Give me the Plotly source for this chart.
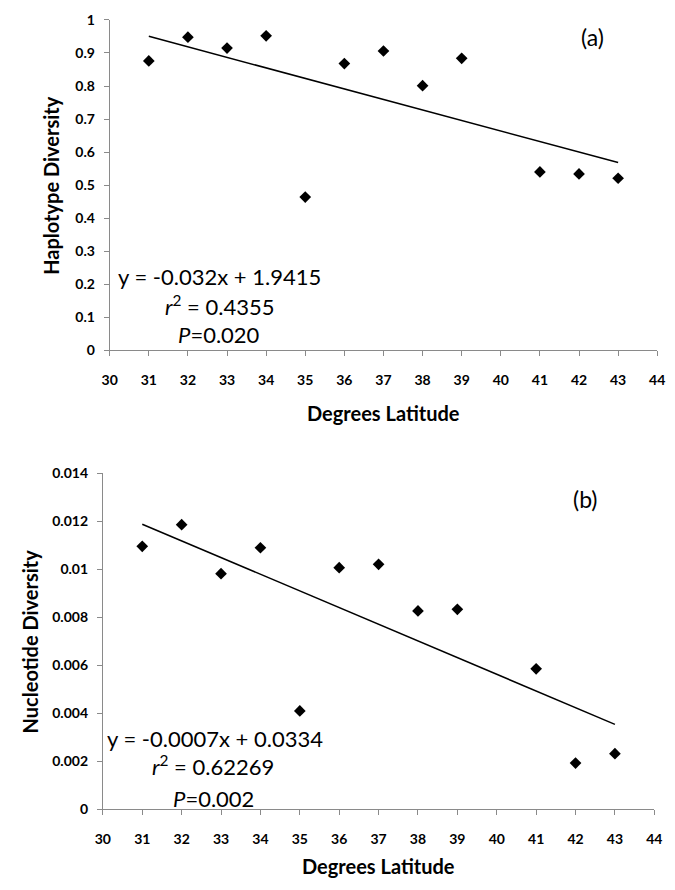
import numpy as np
import plotly.graph_objects as go

# ---- data ----
latitude = [31, 32, 33, 34, 35, 36, 37, 38, 39, 41, 42, 43]
haplotype_div = [0.876, 0.948, 0.915, 0.952, 0.464, 0.868, 0.906, 0.801, 0.884, 0.540, 0.534, 0.521]
nucleotide_div = [0.01095, 0.01185, 0.00981, 0.01089, 0.00410, 0.01006, 0.01020,
                  0.00826, 0.00833, 0.00585, 0.00193, 0.00232]

x_ticks = list(range(30, 45))
x_ticklabels = [str(v) for v in x_ticks]
hap_ticks = [0, 0.1, 0.2, 0.3, 0.4, 0.5, 0.6, 0.7, 0.8, 0.9, 1]
hap_ticklabels = ["0", "0.1", "0.2", "0.3", "0.4", "0.5", "0.6", "0.7", "0.8", "0.9", "1"]
nuc_ticks = [0, 0.002, 0.004, 0.006, 0.008, 0.010, 0.012, 0.014]
nuc_ticklabels = ["0", "0.002", "0.004", "0.006", "0.008", "0.01", "0.012", "0.014"]

eq_a = ["y = -0.032x + 1.9415", "<i>r</i><sup>2</sup> = 0.4355", "<i>P</i>=0.020"]
eq_b = ["y = -0.0007x + 0.0334", "<i>r</i><sup>2</sup> = 0.62269", "<i>P</i>=0.002"]

FONT = "Lato"
AXC = "#8a8a8a"
OFF = 8                      # default page (body) margin of the html page
W, H = 675 - OFF, 890 - OFF  # figure fits inside the window


def px_x(p):
    return (p - OFF) / W


def px_y(p):
    return 1 - (p - OFF) / H


def fit_line(x, y):
    slope, intercept = np.polyfit(x, y, 1)
    xs = np.array([min(x), max(x)], dtype=float)
    return xs, slope * xs + intercept


fig = go.Figure()

# top panel
fig.add_trace(go.Scatter(x=latitude, y=haplotype_div, mode="markers",
                         marker=dict(symbol="diamond", size=9, color="black"),
                         xaxis="x", yaxis="y", showlegend=False))
lx, ly = fit_line(latitude, haplotype_div)
fig.add_trace(go.Scatter(x=lx, y=ly, mode="lines", line=dict(color="black", width=1.5),
                         xaxis="x", yaxis="y", showlegend=False))

# bottom panel
fig.add_trace(go.Scatter(x=latitude, y=nucleotide_div, mode="markers",
                         marker=dict(symbol="diamond", size=9, color="black"),
                         xaxis="x2", yaxis="y2", showlegend=False))
lx2, ly2 = fit_line(latitude, nucleotide_div)
fig.add_trace(go.Scatter(x=lx2, y=ly2, mode="lines", line=dict(color="black", width=1.5),
                         xaxis="x2", yaxis="y2", showlegend=False))

tickfont = dict(family=FONT, size=14, color="black", weight="bold")
common_x = dict(range=[30, 44], tickvals=x_ticks, ticktext=x_ticklabels, showline=True,
                linecolor=AXC, linewidth=1, ticks="outside", ticklen=5, tickcolor=AXC,
                showgrid=False, zeroline=False, tickfont=tickfont, ticklabelstandoff=12)
common_y = dict(showline=True, linecolor=AXC, linewidth=1, ticks="outside", ticklen=5,
                tickcolor=AXC, showgrid=False, zeroline=False, tickfont=tickfont,
                ticklabelstandoff=6)

fig.update_layout(
    width=W, height=H,
    margin=dict(l=0, r=0, t=0, b=0),
    plot_bgcolor="white", paper_bgcolor="white",
    font=dict(family=FONT, color="black"),
    xaxis=dict(domain=[px_x(104), px_x(665)], anchor="y", **common_x),
    yaxis=dict(domain=[px_y(348), px_y(11)], anchor="x", range=[0, 1],
               tickvals=hap_ticks, ticktext=hap_ticklabels, **common_y),
    xaxis2=dict(domain=[px_x(97), px_x(662)], anchor="y2", **common_x),
    yaxis2=dict(domain=[px_y(816), px_y(473)], anchor="x2", range=[0, 0.014],
                tickvals=nuc_ticks, ticktext=nuc_ticklabels, **common_y),
)

ann = []
title_font = dict(family=FONT, size=20, color="black", weight="bold")
text_font = dict(family=FONT, size=22, color="black")
label_font = dict(family=FONT, size=23, color="black")

# axis titles
ann.append(dict(text="Degrees Latitude", xref="paper", yref="paper",
                x=px_x((104 + 665) / 2), y=px_y(412), showarrow=False, font=title_font,
                xanchor="center", yanchor="middle"))
ann.append(dict(text="Degrees Latitude", xref="paper", yref="paper",
                x=px_x((97 + 662) / 2), y=px_y(874), showarrow=False, font=title_font,
                xanchor="center", yanchor="middle"))
ann.append(dict(text="Haplotype Diversity", xref="paper", yref="paper",
                x=px_x(44), y=px_y(180), textangle=-90, showarrow=False, font=title_font,
                xanchor="center", yanchor="middle"))
ann.append(dict(text="Nucleotide Diversity", xref="paper", yref="paper",
                x=px_x(22), y=px_y(645), textangle=-90, showarrow=False, font=title_font,
                xanchor="center", yanchor="middle"))

# panel labels
ann.append(dict(text="(a)", xref="x", yref="y", x=42.35, y=0.948, showarrow=False,
                font=label_font, xanchor="center", yanchor="middle"))
ann.append(dict(text="(b)", xref="x2", yref="y2", x=42.25, y=0.0129, showarrow=False,
                font=label_font, xanchor="center", yanchor="middle"))

# regression text
ann.append(dict(text=eq_a[0], xref="x", yref="y", x=30.15, y=0.224, showarrow=False,
                font=text_font, xanchor="left", yanchor="middle"))
ann.append(dict(text=eq_a[1], xref="x", yref="y", x=32.8, y=0.137, showarrow=False,
                font=text_font, xanchor="center", yanchor="middle"))
ann.append(dict(text=eq_a[2], xref="x", yref="y", x=32.8, y=0.047, showarrow=False,
                font=text_font, xanchor="center", yanchor="middle"))

ann.append(dict(text=eq_b[0], xref="x2", yref="y2", x=30.05, y=0.00294, showarrow=False,
                font=text_font, xanchor="left", yanchor="middle"))
ann.append(dict(text=eq_b[1], xref="x2", yref="y2", x=32.8, y=0.00182, showarrow=False,
                font=text_font, xanchor="center", yanchor="middle"))
ann.append(dict(text=eq_b[2], xref="x2", yref="y2", x=32.8, y=0.00046, showarrow=False,
                font=text_font, xanchor="center", yanchor="middle"))

fig.update_layout(annotations=ann)

fig.write_html("out.html")
